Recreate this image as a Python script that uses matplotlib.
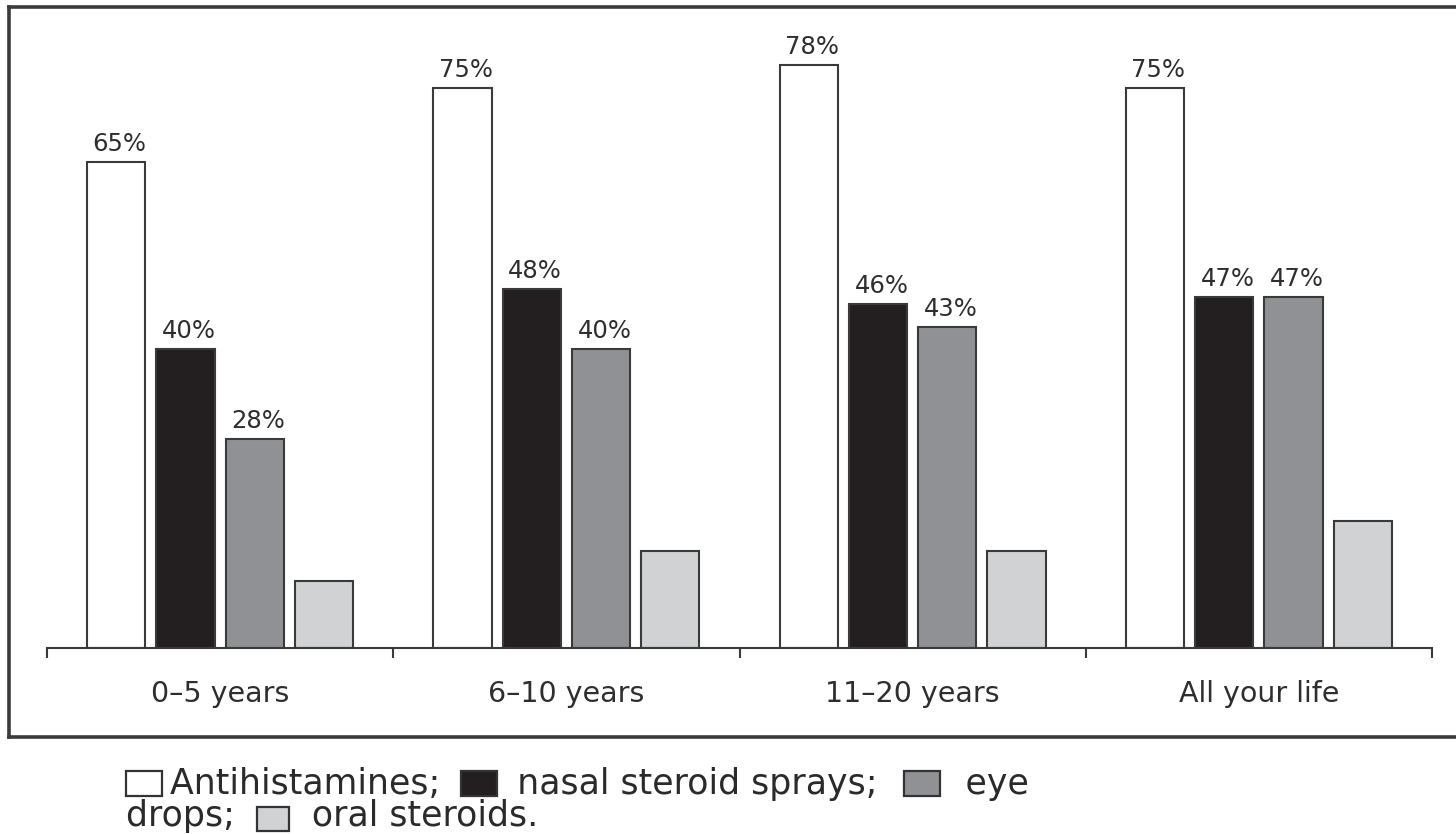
import matplotlib
matplotlib.use("Agg")
import matplotlib.pyplot as plt
from matplotlib.patches import Rectangle
from matplotlib.lines import Line2D
from matplotlib.font_manager import FontProperties
import numpy as np

# ---- data ----
categories = ['0–5 years', '6–10 years', '11–20 years', 'All your life']
series_names = ['Antihistamines', 'nasal steroid sprays', 'eye drops', 'oral steroids']
antihistamines = [65, 75, 78, 75]
nasal_steroid_sprays = [40, 48, 46, 47]
eye_drops = [28, 40, 43, 47]
oral_steroids = [9, 13, 13, 17]
show_labels = [True, True, True, False]
colors = ['#ffffff', '#231f20', '#8f9194', '#d1d2d4']

W, H = 1456, 834
fig = plt.figure(figsize=(W / 100, H / 100), dpi=100)
plt.rcParams['font.family'] = ['DejaVu Sans']

def fx(x):
    return x / W

def fy(y):
    return 1 - y / H

PX_PER_PCT = 7.47
YMAX = 85
ax = fig.add_axes([fx(47), (H - 648) / H, (1432 - 47) / W, YMAX * PX_PER_PCT / H])
ax.set_xlim(-0.5, len(categories) - 0.5)
ax.set_ylim(0, YMAX)

all_series = [antihistamines, nasal_steroid_sprays, eye_drops, oral_steroids]
x = np.arange(len(categories))
offsets = [-0.3, -0.1, 0.1, 0.3]
bw = 0.168
edge = '#3a3a3a'
txtc = '#2e2e2e'
for vals, off, col, lab in zip(all_series, offsets, colors, show_labels):
    bars = ax.bar(x + off, vals, width=bw, color=col, edgecolor=edge, linewidth=1.5, zorder=2)
    if lab:
        for b, v in zip(bars, vals):
            ax.annotate(f'{v}%', (b.get_x() + b.get_width() / 2 + 0.01, v),
                        xytext=(0, 8), textcoords='offset points',
                        ha='center', va='baseline', fontsize=17.5, color=txtc)

for s in ['top', 'right', 'left']:
    ax.spines[s].set_visible(False)
ax.spines['bottom'].set_color(edge)
ax.spines['bottom'].set_linewidth(1.5)
ax.set_yticks([])
ax.set_xticks(np.arange(-0.5, len(categories), 1.0))
ax.set_xticklabels([])
ax.tick_params(axis='x', which='major', direction='out', length=7.5, width=1.5, color=edge)
ax.set_xticks(x, minor=True)
ax.set_xticklabels(categories, minor=True, fontsize=20.5, color=txtc)
ax.tick_params(axis='x', which='minor', length=0, pad=23)

# frame around chart (right side runs off the image)
lw = 2.6
fc = '#3a3a3a'
fig.add_artist(Line2D([fx(9), fx(1470)], [fy(6.5), fy(6.5)], transform=fig.transFigure, color=fc, lw=lw, solid_capstyle='projecting'))
fig.add_artist(Line2D([fx(9), fx(9)], [fy(6.5), fy(736.5)], transform=fig.transFigure, color=fc, lw=lw, solid_capstyle='projecting'))
fig.add_artist(Line2D([fx(9), fx(1470)], [fy(736.5), fy(736.5)], transform=fig.transFigure, color=fc, lw=lw, solid_capstyle='projecting'))

# caption legend: one two-line text, with swatches placed in the gaps
legc = '#2a2a2a'
lfs = 25
fp = FontProperties(family='DejaVu Sans', size=lfs)
renderer = fig.canvas.get_renderer()

def tw(s):
    return renderer.get_text_width_height_descent(s, fp, ismath=False)[0]

sp1a, sp1b, sp1c = ' ' * 4, ' ' * 7, ' ' * 8
sp2 = ' ' * 7
words1 = ['Antihistamines;', 'nasal steroid sprays;', 'eye']
line1 = sp1a + words1[0] + sp1b + words1[1] + sp1c + words1[2]
line2 = 'drops;' + sp2 + 'oral steroids.'
x0 = 126
base2 = 826   # baseline of the second (last) line
fig.text(fx(x0), fy(base2), line1 + '\n' + line2, fontsize=lfs, color=legc,
         va='baseline', ha='left', linespacing=0.92, fontproperties=fp)

def square(cx, y0, y1, col, wpx=36):
    fig.add_artist(Rectangle((fx(cx - wpx / 2), fy(y1)), wpx / W, (y1 - y0) / H,
                             transform=fig.transFigure, facecolor=col, edgecolor='#333333', linewidth=1.6))

pre1 = sp1a + words1[0]
g1_start = tw(pre1)
g1_end = tw(pre1 + sp1b + words1[1]) - tw(words1[1])
pre2 = pre1 + sp1b + words1[1]
g2_start = tw(pre2)
g2_end = tw(pre2 + sp1c + words1[2]) - tw(words1[2])
square(x0 + 18, 771, 796, colors[0])
square(x0 + (g1_start + g1_end) / 2, 771, 796, colors[1])
square(x0 + (g2_start + g2_end) / 2, 771, 796, colors[2])
h_start = tw('drops;')
h_end = tw('drops;' + sp2 + 'oral steroids.') - tw('oral steroids.')
square(x0 + (h_start + h_end) / 2, 807, 831, colors[3], wpx=32)

fig.savefig('out.png', dpi=100)
